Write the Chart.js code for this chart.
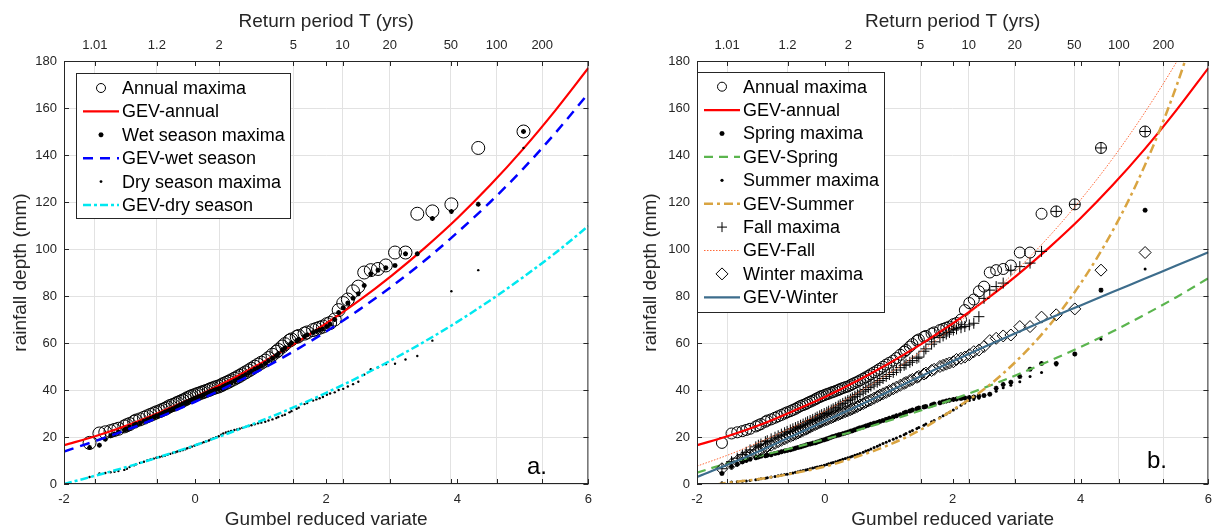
<!DOCTYPE html>
<html>
<head>
<meta charset="utf-8">
<title>Rainfall maxima - Gumbel plots</title>
<script src="https://cdn.jsdelivr.net/npm/chart.js@4.4.1/dist/chart.umd.min.js"></script>
<style>
  html, body { margin: 0; padding: 0; background: #fff; overflow: hidden; }
  canvas { position: absolute; top: 0; }
  #annualChart { left: 0; }
  #seasonChart { left: 630px; }
</style>
</head>
<body>
<canvas id="annualChart" width="600" height="531"></canvas>
<canvas id="seasonChart" width="590" height="531"></canvas>
<script>
'use strict'

// Gumbel probability plots of annual and seasonal rainfall maxima, with the fitted GEV curves

// Global Variables
// reduced variate of the plotted ranks (same record length for every sample)
const variate = [-1.61, -1.46, -1.37, -1.29, -1.23, -1.17, -1.08, -1.04, -1.00, -0.93,
  -0.90, -0.84, -0.78, -0.73, -0.68, -0.63, -0.59, -0.54, -0.50, -0.46,
  -0.42, -0.38, -0.34, -0.30, -0.27, -0.23, -0.19, -0.15, -0.12, -0.08,
  -0.05, -0.01, 0.03, 0.06, 0.10, 0.13, 0.17, 0.21, 0.24, 0.28,
  0.32, 0.36, 0.40, 0.43, 0.47, 0.51, 0.55, 0.60, 0.64, 0.68,
  0.72, 0.77, 0.82, 0.86, 0.91, 0.96, 1.01, 1.07, 1.12, 1.18,
  1.24, 1.27, 1.33, 1.37, 1.44, 1.47, 1.55, 1.58, 1.67, 1.71,
  1.80, 1.85, 1.90, 1.95,
  2.01, 2.06, 2.13, 2.19, 2.26, 2.33, 2.41, 2.49, 2.58, 2.68, 2.79, 2.91, 3.05, 3.21, 3.39, 3.62, 3.91, 4.32, 5.01];

// sorted maxima in mm
const annualMax = [17.5, 21.5, 22.0, 22.5, 23.0, 23.5, 24.5, 25.0, 25.5, 26.5,
  27.0, 27.5, 28.2, 28.8, 29.4, 30.0, 30.5, 31.0, 31.5, 32.0,
  32.6, 33.2, 33.6, 34.0, 34.5, 35.0, 35.5, 36.0, 36.5, 37.0,
  37.4, 37.8, 38.2, 38.5, 38.9, 39.2, 39.6, 40.0, 40.4, 40.8,
  41.2, 41.5, 42.0, 42.5, 43.0, 43.5, 44.1, 44.8, 45.4, 46.0,
  46.7, 47.5, 48.3, 49.0, 49.9, 50.8, 51.6, 52.5, 53.6, 55.0,
  56.3, 57.0, 58.5, 59.5, 61.0, 61.5, 62.6, 63.0, 64.0, 64.5,
  65.5, 66.0, 66.5, 67.0,
  68.0, 68.5, 70.0, 74.0, 77.0, 78.5, 82.0, 84.0, 90.0, 91.0, 91.5, 93.0, 98.5, 98.5, 115.0, 116.0, 119.0, 143.0, 150.0];
const wetMax = [15.5, 16.5, 19.0, 20.5, 21.3, 22.0, 23.0, 23.5, 24.2, 25.0,
  25.4, 26.0, 26.7, 27.3, 27.9, 28.5, 29.0, 29.5, 30.0, 30.5,
  31.0, 31.5, 32.0, 32.5, 33.0, 33.5, 34.0, 34.5, 35.0, 35.5,
  36.0, 36.5, 36.8, 37.2, 37.6, 38.0, 38.5, 39.0, 39.4, 39.8,
  40.2, 40.5, 41.0, 41.5, 42.0, 42.5, 43.1, 43.8, 44.4, 45.0,
  45.7, 46.5, 47.3, 48.0, 48.8, 49.5, 50.3, 51.3, 52.4, 53.5,
  54.7, 55.5, 57.0, 58.0, 59.3, 60.0, 61.0, 61.5, 62.8, 63.5,
  64.5, 65.0, 65.5, 66.0,
  67.0, 68.0, 70.0, 73.0, 75.0, 77.0, 79.0, 81.0, 84.5, 89.5, 91.0, 92.0, 93.0, 98.0, 98.0, 113.0, 116.0, 119.0, 150.0];
const dryMax = [3.0, 4.5, 4.7, 5.0, 5.2, 5.5, 6.0, 6.5, 7.2, 8.0,
  8.4, 9.0, 9.5, 10.0, 10.4, 10.8, 11.2, 11.5, 11.8, 12.0,
  12.4, 12.8, 13.2, 13.5, 13.8, 14.0, 14.4, 14.8, 15.2, 15.5,
  15.9, 16.3, 16.7, 17.0, 17.4, 17.8, 18.2, 18.5, 19.0, 19.5,
  19.9, 20.3, 21.0, 21.5, 21.9, 22.3, 22.6, 23.0, 23.2, 23.5,
  23.9, 24.3, 24.7, 25.0, 25.4, 25.8, 26.1, 26.5, 27.0, 27.5,
  28.1, 28.5, 29.1, 29.5, 30.5, 31.0, 32.0, 32.5, 34.0, 34.5,
  35.5, 36.0, 36.5, 37.0,
  38.0, 38.5, 39.0, 40.0, 40.5, 41.5, 42.5, 43.5, 46.5, 48.8, 49.7, 51.0, 51.2, 53.0, 54.5, 61.0, 82.0, 91.0, 143.0];
const springMax = [4.5, 7.5, 8.5, 9.5, 10.0, 10.5, 11.2, 11.5, 11.8, 12.0,
  12.2, 12.5, 13.0, 13.3, 13.7, 14.0, 14.3, 14.6, 14.9, 15.2,
  15.5, 15.8, 16.2, 16.5, 16.8, 17.0, 17.3, 17.6, 17.9, 18.2,
  18.5, 18.8, 19.2, 19.5, 19.9, 20.2, 20.5, 20.8, 21.1, 21.4,
  21.7, 22.0, 22.4, 22.7, 23.1, 23.5, 23.9, 24.3, 24.7, 25.0,
  25.4, 25.8, 26.2, 26.6, 27.0, 27.5, 28.0, 28.5, 29.0, 29.5,
  30.2, 30.5, 31.1, 31.5, 32.0, 32.3, 32.8, 33.0, 33.6, 34.0,
  34.6, 35.0, 35.3, 35.6,
  36.0, 36.2, 36.4, 36.6, 36.8, 37.0, 37.3, 37.7, 38.2, 40.7, 42.3, 43.3, 45.7, 48.8, 51.3, 51.3, 55.3, 82.5, 116.5];
const summerMax = [0.5, 0.9, 1.0, 1.2, 1.3, 1.5, 1.8, 2.0, 2.2, 2.5,
  2.7, 3.0, 3.2, 3.5, 3.8, 4.0, 4.2, 4.5, 4.7, 5.0,
  5.2, 5.5, 5.7, 6.0, 6.2, 6.5, 6.8, 7.0, 7.2, 7.5,
  7.7, 8.0, 8.3, 8.6, 8.9, 9.2, 9.5, 9.8, 10.1, 10.5,
  10.9, 11.2, 11.5, 11.8, 12.2, 12.6, 13.0, 13.5, 14.0, 14.4,
  14.9, 15.5, 16.1, 16.6, 17.2, 17.8, 18.4, 19.0, 19.6, 20.3,
  21.0, 21.5, 22.2, 22.8, 23.6, 24.0, 25.0, 25.5, 26.5, 27.0,
  28.3, 29.0, 29.8, 30.5,
  31.5, 32.3, 33.5, 34.5, 35.5, 36.0, 36.5, 37.5, 38.5, 39.5, 41.0, 42.0, 43.5, 45.7, 47.5, 50.6, 55.0, 61.6, 91.5];
const fallMax = [6.5, 9.5, 11.0, 12.5, 13.5, 14.5, 15.8, 16.5, 17.0, 18.0,
  18.4, 19.2, 19.9, 20.5, 21.2, 21.8, 22.4, 23.0, 23.5, 24.0,
  24.5, 25.0, 25.5, 26.0, 26.5, 27.0, 27.5, 28.0, 28.5, 29.0,
  29.5, 30.0, 30.5, 31.0, 31.5, 32.0, 32.6, 33.2, 33.7, 34.3,
  34.9, 35.5, 36.1, 36.7, 37.3, 38.0, 38.7, 39.5, 40.2, 41.0,
  41.7, 42.5, 43.3, 44.0, 44.9, 45.8, 46.6, 47.5, 48.5, 49.5,
  50.5, 51.0, 51.8, 52.5, 53.5, 54.0, 56.5, 57.5, 59.5, 60.5,
  62.3, 63.0, 63.8, 64.5,
  65.5, 66.0, 66.5, 67.0, 67.7, 68.4, 71.2, 79.0, 82.5, 84.0, 85.5, 91.0, 92.5, 94.0, 99.0, 116.0, 119.0, 143.0, 150.0];
const winterMax = [6.5, 8.5, 9.8, 11.0, 11.8, 12.5, 13.5, 14.0, 14.6, 15.5,
  15.9, 16.5, 17.3, 18.0, 18.6, 19.2, 19.8, 20.3, 20.8, 21.2,
  21.7, 22.2, 22.8, 23.3, 23.7, 24.2, 24.8, 25.3, 25.7, 26.2,
  26.6, 27.0, 27.4, 27.8, 28.2, 28.6, 29.1, 29.5, 29.9, 30.3,
  30.8, 31.2, 31.6, 32.0, 32.5, 33.0, 33.6, 34.2, 34.8, 35.3,
  35.8, 36.5, 37.2, 37.8, 38.4, 39.0, 39.7, 40.5, 41.2, 42.0,
  42.8, 43.2, 44.0, 44.5, 45.4, 45.8, 46.8, 47.2, 48.3, 48.8,
  50.0, 50.5, 51.0, 51.5,
  52.0, 53.0, 53.5, 54.0, 55.0, 56.3, 57.0, 58.5, 61.0, 62.0, 63.0, 63.4, 67.0, 67.0, 71.0, 72.0, 74.5, 91.0, 98.5];

// GEV quantile curves, sampled along the reduced variate
const curveGrid = [-2, -1.5, -1, -0.5, 0, 0.5, 1, 1.5, 2, 2.5, 3, 3.5, 4, 4.5, 5, 5.5, 6];
const gevAnnual = [16.5, 20.5, 25.3, 31.0, 37.0, 43.8, 51.3, 59.4, 68.3, 78.0, 88.7, 100.4, 113.1, 127.1, 142.4, 159.1, 177.0];
const gevWet = [13.8, 18.5, 23.5, 29.0, 35.0, 41.5, 48.6, 56.4, 64.9, 74.1, 84.1, 95.0, 107.0, 119.9, 134.0, 149.5, 166.2];
const gevDry = [0.0, 3.7, 7.6, 11.9, 16.5, 21.5, 26.8, 32.6, 38.8, 45.5, 52.8, 60.6, 69.0, 78.1, 87.9, 98.4, 109.8];
const gevSpring = [4.8, 9.0, 12.1, 15.4, 19.0, 22.8, 26.9, 31.3, 36.0, 41.0, 46.4, 52.2, 58.3, 64.9, 72.0, 79.5, 87.6];
const gevSummer = [-1.5, 0.6, 2.2, 4.5, 7.4, 11.6, 16.6, 23.1, 31.5, 40.5, 52.4, 67.1, 85.3, 107.6, 135.2, 169.3, 211.3];
const gevFall = [7.6, 12.5, 18.1, 24.2, 31.0, 38.6, 47.0, 56.3, 66.6, 78.2, 91.0, 105.1, 120.9, 138.4, 157.9, 179.5, 203.5];
const gevWinter = [3.0, 8.5, 14.3, 20.5, 26.8, 33.0, 39.4, 45.8, 52.2, 58.4, 64.4, 70.3, 76.0, 81.7, 87.3, 93.0, 98.6];

// top axis
const returnPeriods = [1.01, 1.2, 2, 5, 10, 20, 50, 100, 200];
const periodLabels = ['1.01', '1.2', '2', '5', '10', '20', '50', '100', '200'];

const textColor = '#262626';
const gridColor = '#e2e2e2';
const fontFamily = "'Liberation Sans', Arial, Helvetica, sans-serif";

// Global Functions
function toPoints(xs, ys) {
  return xs.map((x, i) => ({ x: x, y: ys[i] }));
}

// reduced variate for a return period (used to place the top ticks)
function periodToVariate(T) {
  return -Math.log(-Math.log(1 - 1 / T));
}

function markerSet(label, values, style) {
  return Object.assign({
    label: label,
    data: toPoints(variate, values),
    showLine: false,
    pointBorderColor: '#000',
    pointBackgroundColor: 'rgba(0,0,0,0)',
    pointBorderWidth: 1
  }, style);
}

function curveSet(label, values, color, width, dash) {
  return {
    label: label,
    data: toPoints(curveGrid, values),
    showLine: true,
    pointRadius: 0,
    borderColor: color,
    borderWidth: width,
    borderDash: dash,
    cubicInterpolationMode: 'monotone',
    fill: false
  };
}

// box with inward ticks on all four sides, plus the panel letter
const frame = {
  id: 'frame',
  afterDatasetsDraw(chart, args, opts) {
    const { ctx, chartArea: a, scales } = chart;
    const len = 5;
    ctx.save();
    ctx.strokeStyle = textColor;
    ctx.lineWidth = 1;
    ctx.beginPath();
    [scales.x, scales.top].forEach(s => s.ticks.forEach(t => {
      const px = Math.round(s.getPixelForValue(t.value)) + 0.5;
      ctx.moveTo(px, a.top); ctx.lineTo(px, a.top + len);
      ctx.moveTo(px, a.bottom); ctx.lineTo(px, a.bottom - len);
    }));
    scales.y.ticks.forEach(t => {
      const py = Math.round(scales.y.getPixelForValue(t.value)) + 0.5;
      ctx.moveTo(a.left, py); ctx.lineTo(a.left + len, py);
      ctx.moveTo(a.right, py); ctx.lineTo(a.right - len, py);
    });
    ctx.stroke();
    ctx.strokeRect(a.left + 0.5, a.top + 0.5, a.right - a.left - 1, a.bottom - a.top - 1);
    ctx.fillStyle = '#000';
    ctx.font = '24px ' + fontFamily;
    ctx.textBaseline = 'alphabetic';
    ctx.fillText(opts.tag, opts.tagX, opts.tagY);
    ctx.restore();
  }
};

// legend drawn inside the plot area, upper left
const insetLegend = {
  id: 'insetLegend',
  afterDraw(chart, args, opts) {
    const ctx = chart.ctx;
    ctx.save();
    ctx.fillStyle = '#fff';
    ctx.fillRect(opts.left, opts.top, opts.width, opts.height);
    ctx.strokeStyle = textColor;
    ctx.lineWidth = 1;
    ctx.strokeRect(opts.left + 0.5, opts.top + 0.5, opts.width, opts.height);
    ctx.font = '18px ' + fontFamily;
    ctx.textBaseline = 'middle';
    chart.data.datasets.forEach((ds, i) => {
      const y = opts.firstRow + i * opts.rowStep;
      const x0 = opts.left + 7;
      const x1 = opts.left + 43;
      if (ds.showLine) {
        ctx.strokeStyle = ds.borderColor;
        ctx.lineWidth = ds.borderWidth;
        ctx.setLineDash(ds.borderDash || []);
        ctx.beginPath();
        ctx.moveTo(x0, y);
        ctx.lineTo(x1, y);
        ctx.stroke();
        ctx.setLineDash([]);
      } else {
        ctx.strokeStyle = '#000';
        ctx.fillStyle = ds.pointBackgroundColor;
        ctx.lineWidth = ds.pointBorderWidth;
        Chart.helpers.drawPoint(ctx, {
          pointStyle: ds.pointStyle,
          radius: ds.legendRadius,
          borderWidth: ds.pointBorderWidth,
          rotation: 0
        }, (x0 + x1) / 2, y);
      }
      ctx.fillStyle = '#000';
      ctx.fillText(ds.label, opts.left + 46, y + 1);
    });
    ctx.restore();
  }
};

function buildScales(yWidth) {
  const tickFont = { size: 13, family: fontFamily };
  const titleFont = { size: 19, family: fontFamily };
  return {
    x: {
      type: 'linear', position: 'bottom', min: -2, max: 6,
      ticks: { stepSize: 2, color: textColor, font: tickFont, padding: 8, maxRotation: 0 },
      grid: { drawOnChartArea: false, drawTicks: false },
      border: { display: false },
      title: { display: true, text: 'Gumbel reduced variate', color: textColor, font: titleFont, padding: { top: 0, bottom: 0 } },
      afterFit(scale) { scale.height = 47; }
    },
    top: {
      type: 'linear', axis: 'x', position: 'top', min: -2, max: 6,
      afterBuildTicks(scale) {
        scale.ticks = returnPeriods.map(T => ({ value: periodToVariate(T) }));
      },
      ticks: {
        autoSkip: false, color: textColor, font: tickFont, padding: 8, maxRotation: 0,
        callback: (value, index) => periodLabels[index]
      },
      grid: { color: gridColor, drawTicks: false },
      border: { display: false },
      title: { display: true, text: 'Return period T (yrs)', color: textColor, font: titleFont, padding: { top: 10, bottom: 0 } },
      afterFit(scale) { scale.height = 61; }
    },
    y: {
      type: 'linear', min: 0, max: 180,
      ticks: { stepSize: 20, color: textColor, font: tickFont, padding: 7 },
      grid: { color: gridColor, drawTicks: false },
      border: { display: false },
      title: { display: true, text: 'rainfall depth (mm)', color: textColor, font: titleFont, padding: { top: 9, bottom: 0 } },
      afterFit(scale) { scale.width = yWidth; }
    }
  };
}

// earlier datasets sit underneath later ones
function stackOrder(datasets) {
  datasets.forEach((ds, i) => { ds.order = datasets.length - i; });
  return datasets;
}

// Left panel: annual, wet and dry season maxima
const annualDatasets = stackOrder([
  markerSet('Annual maxima', annualMax, { pointStyle: 'circle', pointRadius: 6.5, legendRadius: 4.5 }),
  curveSet('GEV-annual', gevAnnual, '#ff0000', 2.2, []),
  markerSet('Wet season maxima', wetMax, { pointStyle: 'star', pointRadius: 2.5, pointBorderWidth: 1.4, legendRadius: 2.5 }),
  curveSet('GEV-wet season', gevWet, '#0000ff', 2.5, [10, 7]),
  markerSet('Dry season maxima', dryMax, { pointStyle: 'circle', pointRadius: 1.2, pointBorderWidth: 0, pointBackgroundColor: '#000', legendRadius: 1.4 }),
  curveSet('GEV-dry season', gevDry, '#00e8f0', 2.5, [8, 3, 3, 3])
]);

new Chart(document.getElementById('annualChart'), {
  type: 'scatter',
  data: { datasets: annualDatasets },
  options: {
    responsive: false,
    animation: false,
    events: [],
    layout: { padding: { left: 0, right: 7, top: 0, bottom: 0 } },
    scales: buildScales(64),
    plugins: {
      legend: { display: false },
      tooltip: { enabled: false },
      frame: { tag: 'a.', tagX: 527, tagY: 474 },
      insetLegend: { left: 76, top: 73, width: 214, height: 145, firstRow: 88, rowStep: 23.4 }
    }
  },
  plugins: [frame, insetLegend]
});

// Right panel: annual maxima against the four seasons
const seasonDatasets = stackOrder([
  markerSet('Annual maxima', annualMax, { pointStyle: 'circle', pointRadius: 5.5, legendRadius: 4.5 }),
  curveSet('GEV-annual', gevAnnual, '#ff0000', 2.2, []),
  markerSet('Spring maxima', springMax, { pointStyle: 'star', pointRadius: 2.5, pointBorderWidth: 1.4, legendRadius: 2.5 }),
  curveSet('GEV-Spring', gevSpring, '#5bb54e', 2.2, [9, 6]),
  markerSet('Summer maxima', summerMax, { pointStyle: 'circle', pointRadius: 1.5, pointBorderWidth: 0, pointBackgroundColor: '#000', legendRadius: 1.6 }),
  curveSet('GEV-Summer', gevSummer, '#d9a441', 2.5, [9, 4, 3, 4]),
  markerSet('Fall maxima', fallMax, { pointStyle: 'cross', pointRadius: 5.5, legendRadius: 5 }),
  curveSet('GEV-Fall', gevFall, '#ff6a3a', 1, [1.5, 1.5]),
  markerSet('Winter maxima', winterMax, { pointStyle: 'rectRot', pointRadius: 6, legendRadius: 6 }),
  curveSet('GEV-Winter', gevWinter, '#3d6d8c', 2.2, [])
]);

new Chart(document.getElementById('seasonChart'), {
  type: 'scatter',
  data: { datasets: seasonDatasets },
  options: {
    responsive: false,
    animation: false,
    events: [],
    layout: { padding: { left: 0, right: 7, top: 0, bottom: 0 } },
    scales: buildScales(67),
    plugins: {
      legend: { display: false },
      tooltip: { enabled: false },
      frame: { tag: 'b.', tagX: 517, tagY: 468 },
      insetLegend: { left: 67, top: 72, width: 187, height: 240, firstRow: 86.7, rowStep: 23.4 }
    }
  },
  plugins: [frame, insetLegend]
});
</script>
</body>
</html>
